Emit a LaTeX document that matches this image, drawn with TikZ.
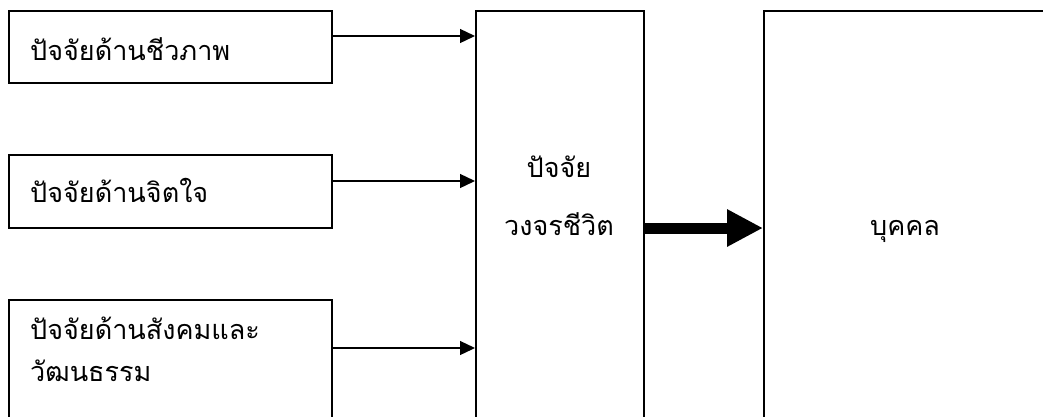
\documentclass[tikz,border=0pt]{standalone}
\usepackage{fontspec}
\newfontfamily\thaifont[Script=Thai]{Loma}
\usetikzlibrary{arrows.meta}
\begin{document}
\begin{tikzpicture}[x=1pt,y=-1pt,
  box/.style={draw=black,line width=1.5pt,rectangle,inner sep=0pt},
  lbl/.style={font=\thaifont\fontsize{27}{32}\selectfont,inner sep=0pt},
  thin arrow/.style={draw=black,line width=1.3pt,-{Triangle[length=15pt,width=14pt]}},
  thick arrow/.style={draw=black,line width=11pt,-{Triangle[length=36pt,width=35pt]}}]
\clip (0,0) rectangle (1043,416);
% boxes
\node[box,anchor=north west,minimum width=323pt,minimum height=72pt] (b1) at (8,10) {};
\node[box,anchor=north west,minimum width=323pt,minimum height=73pt] (b2) at (8,154) {};
\node[box,anchor=north west,minimum width=323pt,minimum height=160pt] (b3) at (8,299) {};
\node[box,anchor=north west,minimum width=168pt,minimum height=460pt] (mid) at (475,10) {};
\node[box,anchor=north west,minimum width=284pt,minimum height=460pt] (per) at (763,10) {};
% texts
\node[lbl,anchor=base west] (t1) at (30,60) {ปัจจัยด้านชีวภาพ};
\node[lbl,anchor=base west] (t2) at (30,202) {ปัจจัยด้านจิตใจ};
\node[lbl,anchor=base west] (t3a) at (30,339) {ปัจจัยด้านสังคมและ};
\node[lbl,anchor=base west] (t3b) at (30,381) {วัฒนธรรม};
\node[lbl,anchor=base] (tm1) at (559,177) {ปัจจัย};
\node[lbl,anchor=base] (tm2) at (559,235) {วงจรชีวิต};
\node[lbl,anchor=base] (tp) at (905,235) {บุคคล};
% connectors
\coordinate (y1) at (0,36);
\coordinate (y2) at (0,181);
\coordinate (y3) at (0,348);
\coordinate (y4) at (0,228);
\draw[thin arrow] (b1.east |- y1) -- (mid.west |- y1);
\draw[thin arrow] (b2.east |- y2) -- (mid.west |- y2);
\draw[thin arrow] (b3.east |- y3) -- (mid.west |- y3);
\draw[thick arrow] (mid.east |- y4) -- (per.west |- y4);
\end{tikzpicture}
\end{document}
